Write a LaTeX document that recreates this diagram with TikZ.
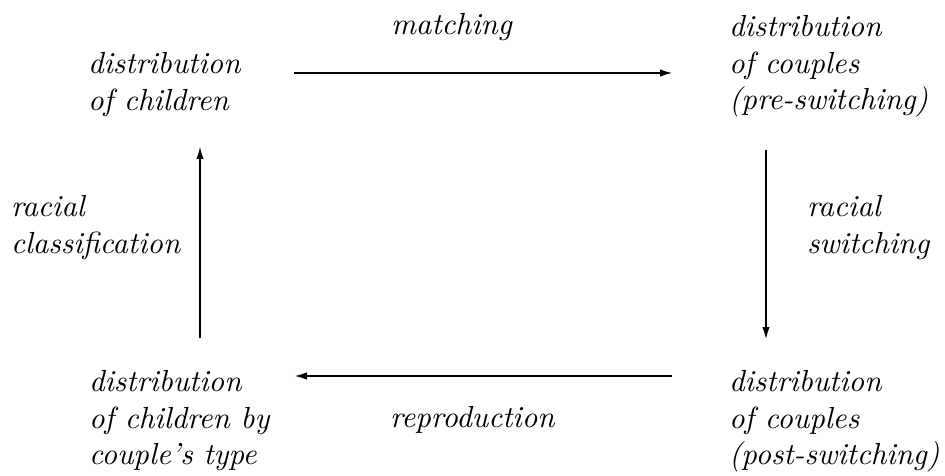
\documentclass[tikz,border=0pt]{standalone}
\usepackage{fontspec}
\usetikzlibrary{arrows.meta}
\begin{document}
\begin{tikzpicture}[x=1pt,y=1pt,
  lbl/.style={anchor=north west,inner sep=0pt,outer sep=0pt,align=left,scale=3.05,
    font=\fontsize{10}{11.95}\selectfont\itshape},
  arr/.style={line width=1.2pt,-{Latex[length=12pt,width=7.5pt]}}]
\useasboundingbox (0,0) rectangle (945,-476);
\node[lbl] (tl) at (88,-52.8) {distribution\\of children};
\node[lbl] (tr) at (729,-15.8) {distribution\\of couples\\(pre-switching)};
\node[lbl] (bl) at (89,-370.8) {distribution\\of children by\\couple's type};
\node[lbl] (br) at (729,-370.8) {distribution\\of couples\\(post-switching)};
\node[lbl] (lm) at (391,-13.8) {matching};
\node[lbl] (lc) at (11,-195.8) {racial\\classification};
\node[lbl] (ls) at (807,-195.8) {racial\\switching};
\node[lbl] (lr) at (390,-406.8) {reproduction};
\coordinate (t1) at (294,-73);
\coordinate (t2) at (672,-73);
\coordinate (r1) at (766,-150);
\coordinate (r2) at (766,-339);
\coordinate (b1) at (672,-376);
\coordinate (b2) at (295,-376);
\coordinate (l1) at (200,-338);
\coordinate (l2) at (200,-147);
\draw[arr] (t1) -- (t2);
\draw[arr] (r1) -- (r2);
\draw[arr] (b1) -- (b2);
\draw[arr] (l1) -- (l2);
\end{tikzpicture}
\end{document}
